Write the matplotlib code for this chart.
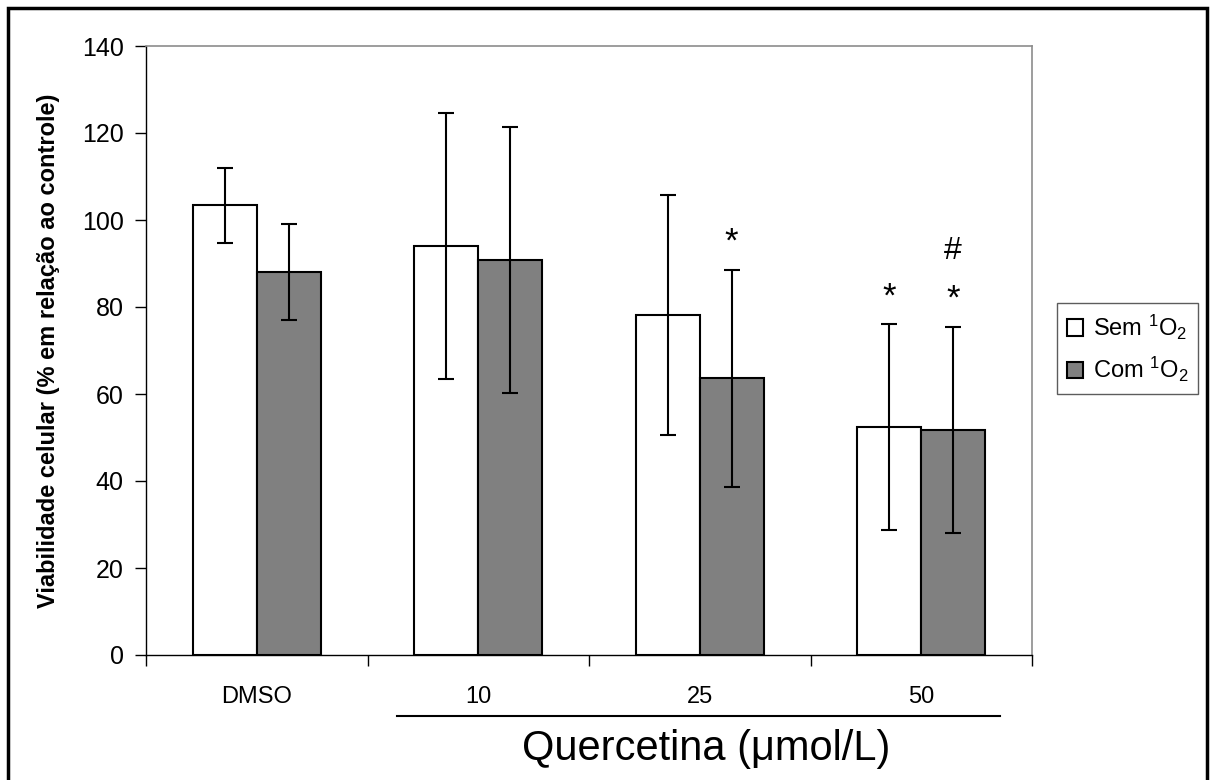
import numpy as np
import matplotlib
matplotlib.use('Agg')
import matplotlib.pyplot as plt
from matplotlib.patches import Rectangle

plt.rcParams['font.family'] = ['Liberation Sans', 'DejaVu Sans']
plt.rcParams['mathtext.default'] = 'regular'

grupos = ['DMSO', '10', '25', '50']
sem_o2 = [103.4, 94.0, 78.2, 52.4]
sem_o2_dp = [8.6, 30.5, 27.6, 23.6]
com_o2 = [88.0, 90.8, 63.6, 51.7]
com_o2_dp = [11.0, 30.6, 25.0, 23.7]
marcas_sem = ['', '', '', '*']
marcas_com = ['', '', '*', '*']
marcas_com2 = ['', '', '', '#']

fig = plt.figure(figsize=(12.12, 7.8), dpi=100)
ax = fig.add_axes([146 / 1212, 1 - 655 / 780, (1032 - 146) / 1212, (655 - 46) / 780])

x = np.arange(len(grupos))
w = 0.288
err_kw = dict(ecolor='black', elinewidth=1.5, capsize=6, capthick=1.5)
ax.bar(x - w / 2, sem_o2, w, yerr=sem_o2_dp, color='white', edgecolor='black',
       linewidth=1.5, error_kw=err_kw, label='Sem $^{1}$O$_{2}$')
ax.bar(x + w / 2, com_o2, w, yerr=com_o2_dp, color='#808080', edgecolor='black',
       linewidth=1.5, error_kw=err_kw, label='Com $^{1}$O$_{2}$')

# marcas de significancia
for i in range(len(grupos)):
    if marcas_sem[i]:
        ax.text(x[i] - w / 2, sem_o2[i] + sem_o2_dp[i] + 6.3, marcas_sem[i],
                ha='center', va='center', fontsize=25)
    if marcas_com[i]:
        ax.text(x[i] + w / 2, com_o2[i] + com_o2_dp[i] + 6.3, marcas_com[i],
                ha='center', va='center', fontsize=25)
    if marcas_com2[i]:
        ax.text(x[i] + w / 2, com_o2[i] + com_o2_dp[i] + 17.5, marcas_com2[i],
                ha='center', va='center', fontsize=23)

ax.set_xlim(-0.5, len(grupos) - 0.5)
ax.set_ylim(0, 140)
ax.set_yticks(np.arange(0, 141, 20))
ax.tick_params(axis='y', labelsize=18, length=8, width=1, pad=8)

ax.set_xticks(np.arange(-0.5, len(grupos), 1))
ax.set_xticklabels([])
ax.tick_params(axis='x', which='major', length=8, width=1, direction='out')
ax.set_xticks(x, minor=True)
ax.set_xticklabels(grupos, minor=True)
ax.tick_params(axis='x', which='minor', length=0, labelsize=17, pad=22)

for s in ['left', 'bottom']:
    ax.spines[s].set_color('black')
    ax.spines[s].set_linewidth(1)
for s in ['top', 'right']:
    ax.spines[s].set_color('#8c8c8c')
    ax.spines[s].set_linewidth(1.2)

ax.set_ylabel('Viabilidade celular (% em relação ao controle)', fontsize=17,
              fontweight='bold', labelpad=16)

# linha e titulo da quercetina
trans = ax.get_xaxis_transform()
ax.plot([0.633, 3.356], [-0.1, -0.1], color='black', lw=1.5, transform=trans, clip_on=False)
ax.text(2.03, -0.155, 'Quercetina (μmol/L)', transform=trans, ha='center', va='center',
        fontsize=30)

leg = fig.legend(loc='center', bbox_to_anchor=(1127.5 / 1212, 1 - 348.5 / 780), fontsize=17,
                 frameon=True, fancybox=False, handlelength=0.7, handleheight=0.7,
                 handletextpad=0.4, borderpad=0.4, labelspacing=0.55, borderaxespad=0)
leg.get_frame().set_edgecolor('#333333')
leg.get_frame().set_linewidth(1)

fig.patches.append(Rectangle((8 / 1212, -0.02), (1207 - 8) / 1212, 1.02 - 8 / 780,
                             transform=fig.transFigure, fill=False, edgecolor='black',
                             linewidth=2.5))

fig.savefig('out.png', dpi=100)
